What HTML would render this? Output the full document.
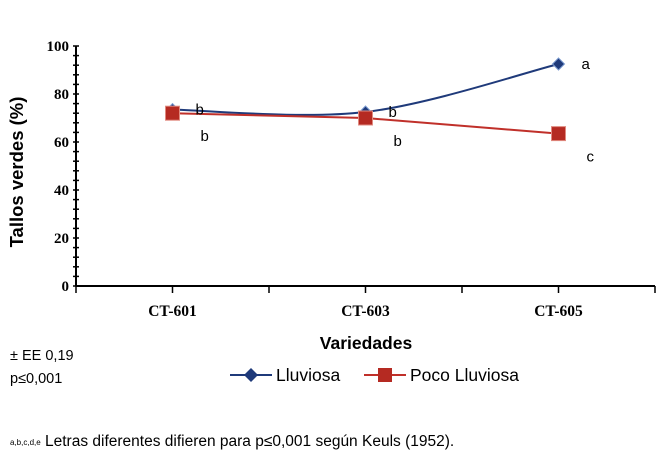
<!DOCTYPE html>
<html><head><meta charset="utf-8"><style>
body{margin:0;background:#fff;width:663px;height:461px;overflow:hidden;font-family:"Liberation Sans",sans-serif}
</style></head><body>
<svg id="chart" width="663" height="461" xmlns="http://www.w3.org/2000/svg">
<text transform="translate(23,172) rotate(-90)" text-anchor="middle" font-size="18.5" font-weight="bold" fill="#000">Tallos verdes (%)</text>
<text x="366" y="349" text-anchor="middle" font-size="17.5" font-weight="bold">Variedades</text>
<text x="10" y="360" font-size="14.5">± EE 0,19</text>
<text x="10" y="383" font-size="14.5">p≤0,001</text>
<text x="10" y="446" font-size="15.5"><tspan font-size="8" dy="-1">a,b,c,d,e</tspan><tspan dy="1"> Letras diferentes difieren para p≤0,001 según Keuls (1952).</tspan></text>
<g>
<line x1="230" y1="375" x2="272" y2="375" stroke="#1f3a7a" stroke-width="2"/>
<path d="M251 368 L258 375 L251 382 L244 375Z" fill="#1f3a7a"/>
<text x="276" y="381" font-size="17.5">Lluviosa</text>
<line x1="364" y1="375" x2="406" y2="375" stroke="#c0302a" stroke-width="2"/>
<rect x="378" y="368" width="14" height="14" fill="#b52a22"/>
<text x="410" y="381" font-size="17.5">Poco Lluviosa</text>
</g>
<g id="plot"></g>
</svg>
<script>
const categories=["CT-601","CT-603","CT-605"];
const lluviosa=[73.5,72.5,92.5];
const poco=[72,70,63.5];
const lluvLetters=["b","b","a"];
const pocoLetters=["b","b","c"];
const yTicks=[0,20,40,60,80,100];
const NS="http://www.w3.org/2000/svg";
const X0=76,X1=655,Y0=286,Y1=46;
const n=categories.length;
const xs=i=>X0+(X1-X0)*(i+0.5)/n;
const ys=v=>Y0-(v/100)*(Y0-Y1);
const g=document.getElementById('plot');
function mk(t,a){const e=document.createElementNS(NS,t);for(const k in a)e.setAttribute(k,a[k]);g.appendChild(e);return e;}
let e;
e=mk('line',{x1:X0,y1:Y1,x2:X0,y2:Y0,stroke:'#000','stroke-width':2});


e=mk('line',{x1:X0,y1:Y0,x2:X1,y2:Y0,stroke:'#000','stroke-width':2});


for(let v=0;v<=100;v+=4){mk('line',{x1:X0-3,x2:X0+3,y1:ys(v),y2:ys(v),stroke:'#000','stroke-width':1.5});}
yTicks.forEach(v=>{const t=mk('text',{x:X0-7,y:ys(v)+5,'text-anchor':'end','font-family':'Liberation Serif','font-weight':'bold','font-size':15});t.textContent=v;

});
for(let i=0;i<=n;i++){const x=X0+(X1-X0)*i/n;mk('line',{x1:x,x2:x,y1:Y0,y2:Y0+7,stroke:'#000','stroke-width':1.5});}
categories.forEach((c,i)=>{mk('line',{x1:xs(i),x2:xs(i),y1:Y0,y2:Y0+7,stroke:'#000','stroke-width':1.5});
const t=mk('text',{x:xs(i),y:Y0+30,'text-anchor':'middle','font-family':'Liberation Serif','font-weight':'bold','font-size':15.5});t.textContent=c;

});
function smooth(vals){const p=vals.map((v,i)=>[xs(i),ys(v)]);let d=`M${p[0][0]},${p[0][1]}`;
for(let i=0;i<p.length-1;i++){const p0=p[i-1]||p[i],p1=p[i],p2=p[i+1],p3=p[i+2]||p2;
const c1=[p1[0]+(p2[0]-p0[0])/6,p1[1]+(p2[1]-p0[1])/6],c2=[p2[0]-(p3[0]-p1[0])/6,p2[1]-(p3[1]-p1[1])/6];
d+=` C${c1[0]},${c1[1]} ${c2[0]},${c2[1]} ${p2[0]},${p2[1]}`;}return d;}
e=mk('path',{d:smooth(lluviosa),fill:'none',stroke:'#1f3a7a','stroke-width':2});


e=mk('polyline',{points:poco.map((v,i)=>xs(i)+','+ys(v)).join(' '),fill:'none',stroke:'#c0302a','stroke-width':2});


lluviosa.forEach((v,i)=>{const x=xs(i),y=ys(v);
const m=mk('path',{d:`M${x} ${y-6} L${x+6} ${y} L${x} ${y+6} L${x-6} ${y}Z`,fill:'#1f3a7a',stroke:'#7a9ad0','stroke-width':1});


const t=mk('text',{x:x+23,y:y+5,'font-size':15});t.textContent=lluvLetters[i];

});
poco.forEach((v,i)=>{const x=xs(i),y=ys(v);
const m=mk('rect',{x:x-7,y:y-7,width:14,height:14,fill:'#b52a22',stroke:'#e08a80','stroke-width':1});


const t=mk('text',{x:x+28,y:y+28,'font-size':15});t.textContent=pocoLetters[i];

});
</script>
</body></html>
